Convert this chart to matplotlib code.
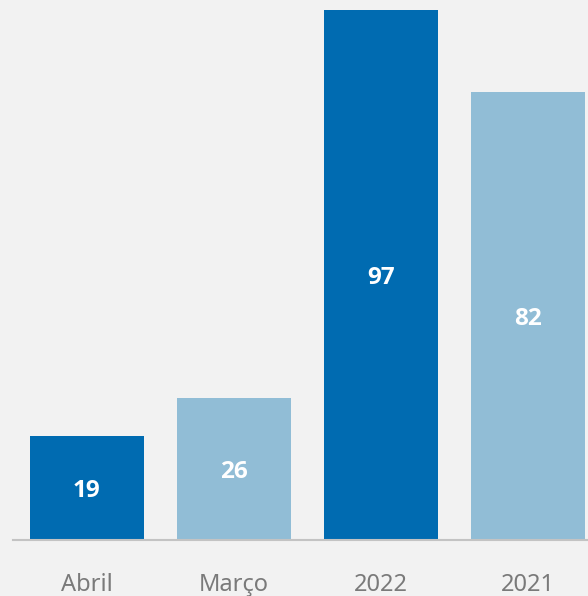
import matplotlib
matplotlib.use("Agg")
import matplotlib.pyplot as plt

categories = ["Abril", "Março", "2022", "2021"]
values = [19, 26, 97, 82]
colours = ["#006bb1", "#91bdd6", "#006bb1", "#91bdd6"]

BG = "#f2f2f2"

plt.rcParams["font.family"] = ["Noto Sans", "DejaVu Sans"]

fig = plt.figure(figsize=(5.88, 5.96), dpi=100, facecolor=BG)
ax = fig.add_axes([13 / 588, 56 / 596, 575 / 588, 540 / 596], facecolor=BG)

x = list(range(len(categories)))
bars = ax.bar(x, values, width=0.775, color=colours, zorder=2)

for rect, v in zip(bars, values):
    ax.text(rect.get_x() + rect.get_width() / 2, v / 2, str(v),
            ha="center", va="center_baseline", color="white",
            fontsize=17.5, fontweight="bold", family=["Open Sans", "DejaVu Sans"],
            zorder=3)

ax.set_xlim(-0.503, 3.408)
ax.set_ylim(0, 98.83)

for side in ["top", "right", "left"]:
    ax.spines[side].set_visible(False)
ax.spines["bottom"].set_color("#c3c3c3")
ax.spines["bottom"].set_linewidth(1.5)

ax.set_yticks([])
ax.set_xticks(x)
ax.set_xticklabels(categories, fontsize=17, color="#7a7a7a")
ax.tick_params(axis="x", length=0, pad=24)

fig.savefig("out.png", dpi=100, facecolor=BG)
